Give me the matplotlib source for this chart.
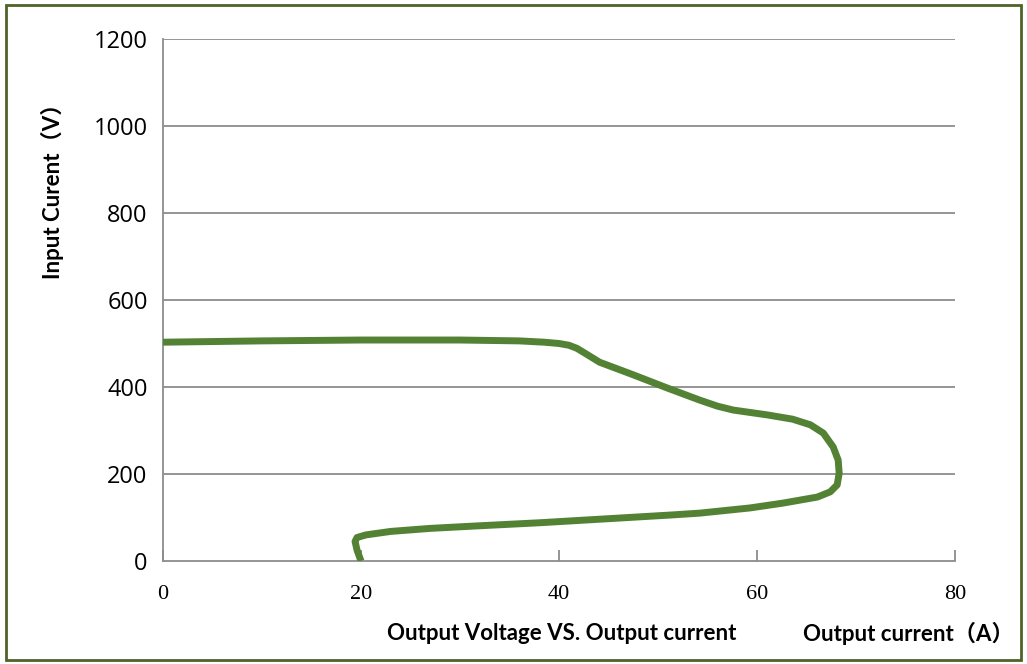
import matplotlib
matplotlib.use("Agg")
import matplotlib.pyplot as plt
from matplotlib.patches import Rectangle

# Data: output current (A) vs voltage (V)
current = [0, 10, 20, 30, 36, 38.5, 40.0, 41.0, 41.8, 42.6, 44.1, 47.5, 50.9, 54.2, 56.0, 57.6,
           61.0, 63.6, 65.4, 66.7, 67.7, 68.2, 68.3, 68.1, 67.4, 66.1, 62.6, 59.3, 54.2, 51.5,
           44.8, 38.1, 32, 27, 23, 20.5, 19.6, 19.4, 19.6, 20.0]
voltage = [503, 506, 508, 508, 506, 503, 500, 496, 489, 478, 457, 428, 398, 370, 356, 347,
           336, 326, 313, 294, 262, 232, 202, 175, 159, 147, 133, 122, 110, 106,
           97, 88, 81, 75, 68, 60, 54, 45, 25, 0]

x_ticks = [0, 20, 40, 60, 80]
y_ticks = [0, 200, 400, 600, 800, 1000, 1200]

fig = plt.figure(figsize=(10.27, 6.64), dpi=100)
ax = fig.add_axes([163/1027, 1-561/664, (955-163)/1027, (561-39)/664])

grid_c = '#8c8c8c'
for yv in y_ticks[1:]:
    ax.axhline(yv, color=grid_c, lw=1.3, zorder=1)

ax.plot(current, voltage, color='#548235', lw=5, solid_joinstyle='round',
        solid_capstyle='butt', zorder=3)

ax.set_xlim(0, 80)
ax.set_ylim(0, 1200)
ax.set_xticks(x_ticks)
ax.set_yticks(y_ticks)
ax.set_xticklabels([str(v) for v in x_ticks], family='Liberation Serif', fontsize=16)
ax.set_yticklabels([str(v) for v in y_ticks], family=['Open Sans', 'DejaVu Sans'], fontsize=17)
ax.tick_params(axis='x', direction='in', length=8, width=1.3, color=grid_c, pad=17)
ax.tick_params(axis='y', length=0, pad=11)
for s in ['top', 'right']:
    ax.spines[s].set_visible(False)
for s in ['left', 'bottom']:
    ax.spines[s].set_color(grid_c)
    ax.spines[s].set_linewidth(1.3)

lab_font = ['Lato', 'Noto Sans CJK SC']
fig.text(562/1027, 1-633/664, 'Output Voltage VS. Output current', ha='center', va='center',
         family=lab_font, fontweight='bold', fontsize=16)
fig.text(803/1027, 1-633/664, 'Output current（A）', ha='left', va='center',
         family=lab_font, fontweight='bold', fontsize=16)
fig.text(52/1027, 1-186/664, 'Input Curent（V）', ha='center', va='center', rotation=90,
         family=lab_font, fontweight='bold', fontsize=16)

fig.patches.append(Rectangle((6/1027, 4/664), 1-12/1027, 1-9/664, transform=fig.transFigure,
                             fill=False, edgecolor='#4f6228', lw=2))

fig.savefig('out.png', dpi=100)
